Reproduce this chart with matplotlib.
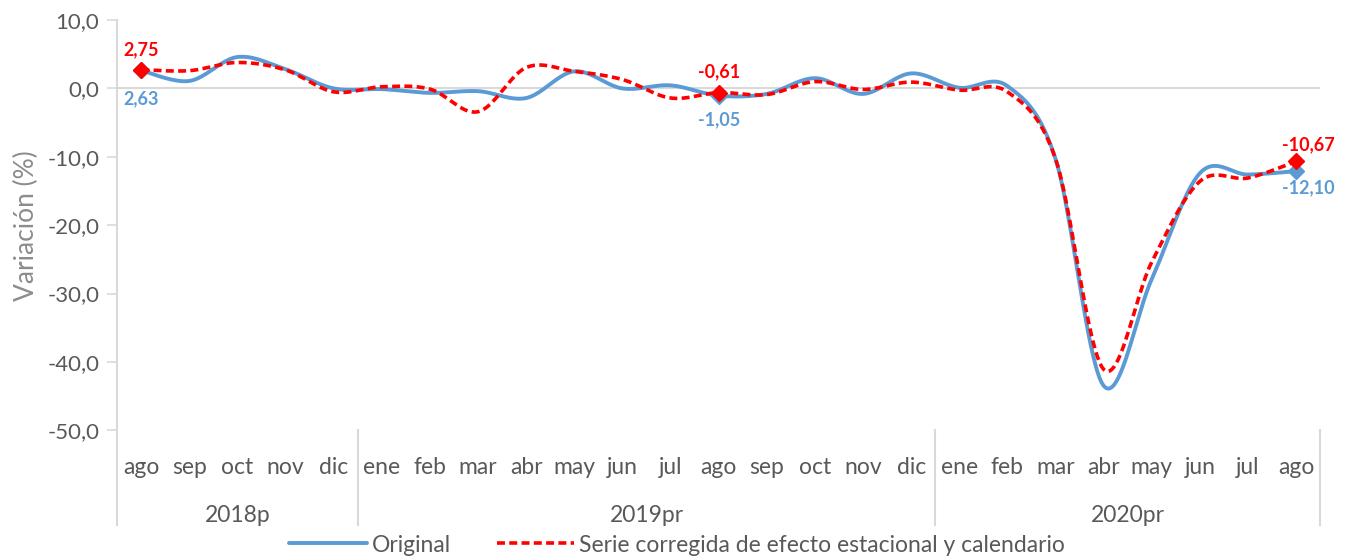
import matplotlib.pyplot as plt
import matplotlib.transforms as mtransforms
import numpy as np

# datos (variación %)
meses = ['ago', 'sep', 'oct', 'nov', 'dic',
         'ene', 'feb', 'mar', 'abr', 'may', 'jun', 'jul', 'ago', 'sep', 'oct', 'nov', 'dic',
         'ene', 'feb', 'mar', 'abr', 'may', 'jun', 'jul', 'ago']
anios = ['2018p', '2019pr', '2020pr']
meses_por_anio = [5, 12, 8]

original = [2.63, 1.1, 4.6, 2.8, 0.0,
            -0.1, -0.65, -0.4, -1.4, 2.5, 0.0, 0.45, -1.05, -0.8, 1.5, -0.8, 2.2,
            0.1, 0.35, -10.3, -43.5, -27.9, -12.4, -12.6, -12.10]
corregida = [2.75, 2.6, 3.8, 2.7, -0.5,
             0.25, -0.1, -3.4, 3.06, 2.5, 1.3, -1.4, -0.61, -0.9, 1.0, -0.15, 0.93,
             -0.25, -0.5, -10.3, -41.1, -25.4, -13.6, -13.1, -10.67]

puntos_marcados = [0, 12, 24]

azul = '#5b9bd5'
rojo = '#ff0000'
gris_txt = '#595959'
gris_eje = '#d9d9d9'

plt.rcParams['font.family'] = ['Lato', 'DejaVu Sans']


def suavizar(y, n=24):
    # curva suavizada tipo Excel (Catmull-Rom en forma Bezier)
    y = np.asarray(y, dtype=float)
    x = np.arange(len(y), dtype=float)
    xs, ys = [], []
    for i in range(len(y) - 1):
        i0, i3 = max(i - 1, 0), min(i + 2, len(y) - 1)
        p0 = np.array([x[i], y[i]])
        p3 = np.array([x[i + 1], y[i + 1]])
        c1 = p0 + (np.array([x[i + 1], y[i + 1]]) - np.array([x[i0], y[i0]])) / 6
        c2 = p3 - (np.array([x[i3], y[i3]]) - np.array([x[i], y[i]])) / 6
        t = np.linspace(0, 1, n)[:, None]
        seg = ((1 - t) ** 3) * p0 + 3 * ((1 - t) ** 2) * t * c1 + 3 * (1 - t) * t ** 2 * c2 + t ** 3 * p3
        xs.extend(seg[:, 0])
        ys.extend(seg[:, 1])
    return np.array(xs), np.array(ys)


fig = plt.figure(figsize=(13.54, 5.58), dpi=100)
ax = fig.add_axes([0.0866, 0.229, 0.975 - 0.0866, 0.964 - 0.229])

x = np.arange(len(meses))
ax.axhline(0, color=gris_eje, lw=1.5, zorder=1)

xo, yo = suavizar(original)
xc, yc = suavizar(corregida)
ax.plot(xo, yo, color=azul, lw=2.8, solid_capstyle='round', label='Original', zorder=3)
ax.plot(xc, yc, color=rojo, lw=2.6, ls=(0, (2.2, 1.2)),
        label='Serie corregida de efecto estacional y calendario', zorder=4)

ax.plot(x[puntos_marcados], np.array(original)[puntos_marcados], ls='none', marker='D',
        ms=8, color=azul, zorder=5)
ax.plot(x[puntos_marcados], np.array(corregida)[puntos_marcados], ls='none', marker='D',
        ms=8, color=rojo, zorder=6)


def fmt(v):
    return f'{v:.2f}'.replace('.', ',')


# desplazamientos (pt) de las etiquetas de datos
desp_rojo = [(0, 8), (0, 9), (9, 6)]
desp_azul = [(0, -14), (0, -11), (9, -6)]
for k, i in enumerate(puntos_marcados):
    ax.annotate(fmt(corregida[i]), (x[i], corregida[i]), xytext=desp_rojo[k],
                textcoords='offset points', ha='center', va='bottom',
                color=rojo, fontsize=13, fontweight='bold')
    ax.annotate(fmt(original[i]), (x[i], original[i]), xytext=desp_azul[k],
                textcoords='offset points', ha='center', va='top',
                color=azul, fontsize=13, fontweight='bold')

ax.set_xlim(-0.5, len(meses) - 0.5)
ax.set_ylim(-50, 10)
ax.set_yticks(np.arange(-50, 11, 10))
ax.set_yticklabels([f'{v:.1f}'.replace('.', ',') for v in np.arange(-50, 11, 10)])
ax.tick_params(axis='y', colors=gris_eje, labelcolor=gris_txt, labelsize=16,
               length=7, width=1.2, pad=6)
ax.set_xticks([])
for s in ['top', 'right', 'bottom', 'left']:
    ax.spines[s].set_visible(False)

ax.set_ylabel('Variación (%)', color='#8c8c8c', fontsize=19, labelpad=6)

# eje de categorías en dos niveles
trans = mtransforms.blended_transform_factory(ax.transData, ax.transAxes)
y_fondo = -0.232
ax.plot([-0.5, -0.5], [1, y_fondo], transform=trans, color=gris_eje, lw=1.5, clip_on=False)
for i, m in enumerate(meses):
    ax.text(i, -0.09, m, transform=trans, ha='center', va='center', fontsize=16.5, color=gris_txt)

inicio = -0.5
for anio, n in zip(anios, meses_por_anio):
    fin = inicio + n
    ax.plot([fin, fin], [0, y_fondo], transform=trans, color=gris_eje, lw=1.5, clip_on=False)
    ax.text((inicio + fin) / 2, -0.207, anio, transform=trans, ha='center', va='center',
            fontsize=16.5, color=gris_txt)
    inicio = fin

leg = fig.legend(loc='center', bbox_to_anchor=(0.5, 1 - 545 / 558), ncol=2, frameon=False,
                 fontsize=16.5, handlelength=3.4, columnspacing=2.0, handletextpad=0.2,
                 borderpad=0)
for t in leg.get_texts():
    t.set_color(gris_txt)

fig.savefig('out.png', dpi=100)
